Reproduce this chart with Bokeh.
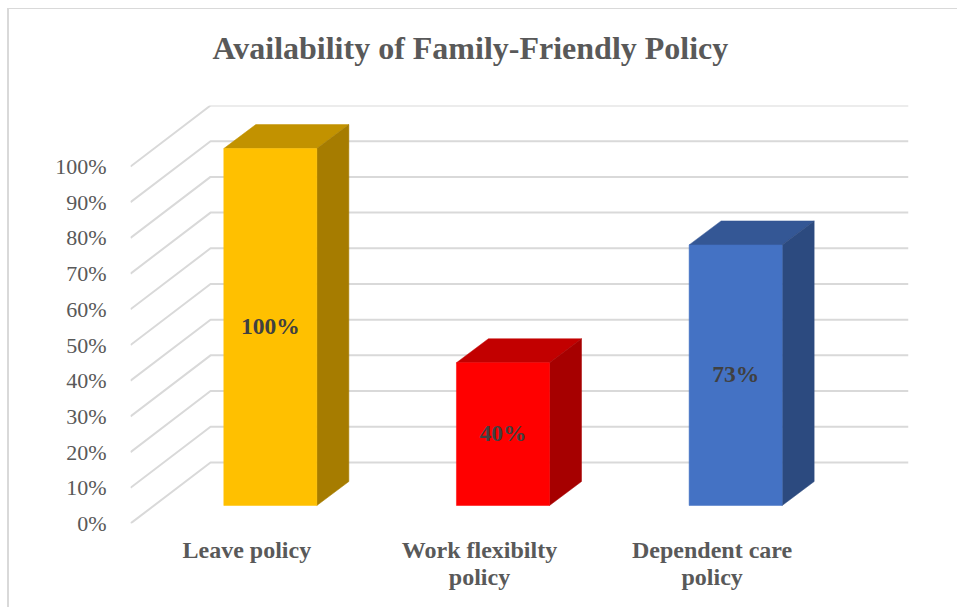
from bokeh.plotting import figure
from bokeh.embed import file_html
from bokeh.resources import INLINE
from bokeh.models import Range1d, FixedTicker, Title
from bokeh.core.properties import value

title_text = "Availability of Family-Friendly Policy"
categories = ["Leave policy", "Work flexibilty\npolicy", "Dependent care\npolicy"]
category_pos = [0.5, 1.5, 2.5]
values = [100, 40, 73]
value_labels = ["100%", "40%", "73%"]
y_ticks = [0, 10, 20, 30, 40, 50, 60, 70, 80, 90, 100]
y_labels = ["0%", "10%", "20%", "30%", "40%", "50%", "60%", "70%", "80%", "90%", "100%"]
front_colors = ["#FFC000", "#FF0000", "#4472C4"]
top_colors = ["#C29200", "#C20000", "#345795"]
side_colors = ["#A67C00", "#A60000", "#2C4A7F"]

# 3-D projection, in axis units (categories along x, percent along y)
X_MAX = 3.344
FLOOR_DX, FLOOR_DY = 0.344, 17.1     # depth of the floor / back wall
BAR_DX, BAR_DY = 0.1375, 6.72        # depth of a bar
SHIFT_DX, SHIFT_DY = 0.101, 5.04     # offset of a bar's front from the front edge
HALF_W = 0.2

W, H = 957, 607
p = figure(width=W, height=H, output_backend="svg", toolbar_location=None,
           x_range=Range1d(0, X_MAX), y_range=Range1d(0, 100 + FLOOR_DY),
           min_border_left=130, min_border_right=49, min_border_top=105, min_border_bottom=84,
           background_fill_color="white", border_fill_alpha=0)
p.outline_line_color = None
p.grid.visible = False

# chart-area border: only its top and left edges fall inside the picture
p.styles = {
    "background-color": "white",
    "background-image": "linear-gradient(#D9D9D9,#D9D9D9), linear-gradient(#D9D9D9,#D9D9D9)",
    "background-size": "2px 100%, 100% 1px",
    "background-position": "7px 8px, 8px 8px",
    "background-repeat": "no-repeat",
}

p.title.text = title_text
p.title.text_font = "Liberation Serif"
p.title.text_font_size = "32px"
p.title.text_font_style = "bold"
p.title.text_color = "#595959"
p.title.align = "left"
p.title.offset = 82
p.title.standoff = 0
# spacing between the title and the plot area
p.add_layout(Title(text=" ", text_font_size="10px", standoff=27), "above")

for ax in (p.xaxis[0], p.yaxis[0]):
    ax.axis_line_color = None
    ax.major_tick_line_color = None
    ax.minor_tick_line_color = None
p.yaxis[0].ticker = FixedTicker(ticks=y_ticks)
p.yaxis[0].major_label_overrides = dict(zip(y_ticks, y_labels))
p.yaxis[0].major_label_text_font = "Liberation Serif"
p.yaxis[0].major_label_text_font_size = "22px"
p.yaxis[0].major_label_text_color = "#595959"
p.yaxis[0].major_label_standoff = 18

p.xaxis[0].ticker = FixedTicker(ticks=category_pos)
p.xaxis[0].major_label_overrides = dict(zip(category_pos, categories))
p.xaxis[0].major_label_text_font = "Liberation Serif"
p.xaxis[0].major_label_text_font_size = "24px"
p.xaxis[0].major_label_text_font_style = "bold"
p.xaxis[0].major_label_text_color = "#595959"
p.xaxis[0].major_label_text_line_height = 1.07
p.xaxis[0].major_label_standoff = 7

# gridlines: wall + side
xs, ys = [], []
for v in y_ticks:
    xs.append([0, FLOOR_DX, X_MAX])
    ys.append([v, v + FLOOR_DY, v + FLOOR_DY])
p.multi_line(xs, ys, line_color="#D9D9D9", line_width=2)

# bars
for c, v, fc, tc, sc in zip(category_pos, values, front_colors, top_colors, side_colors):
    x0 = c - HALF_W + SHIFT_DX
    x1 = c + HALF_W + SHIFT_DX
    y0 = SHIFT_DY
    y1 = v + SHIFT_DY
    p.patch([x0, x1, x1 + BAR_DX, x0 + BAR_DX], [y1, y1, y1 + BAR_DY, y1 + BAR_DY],
            fill_color=tc, line_color=tc, line_width=0.5)
    p.patch([x1, x1 + BAR_DX, x1 + BAR_DX, x1], [y0, y0 + BAR_DY, y1 + BAR_DY, y1],
            fill_color=sc, line_color=sc, line_width=0.5)
    p.patch([x0, x1, x1, x0], [y0, y0, y1, y1], fill_color=fc, line_color=fc, line_width=0.5)

p.text([c + SHIFT_DX for c in category_pos], [v / 2 + SHIFT_DY for v in values], text=value_labels,
       text_font=value("Liberation Serif"), text_font_size="23.5px", text_font_style="bold",
       text_color="#404040", text_align="center", text_baseline="middle", y_offset=-1)

open("out.html", "w").write(file_html(p, INLINE))
